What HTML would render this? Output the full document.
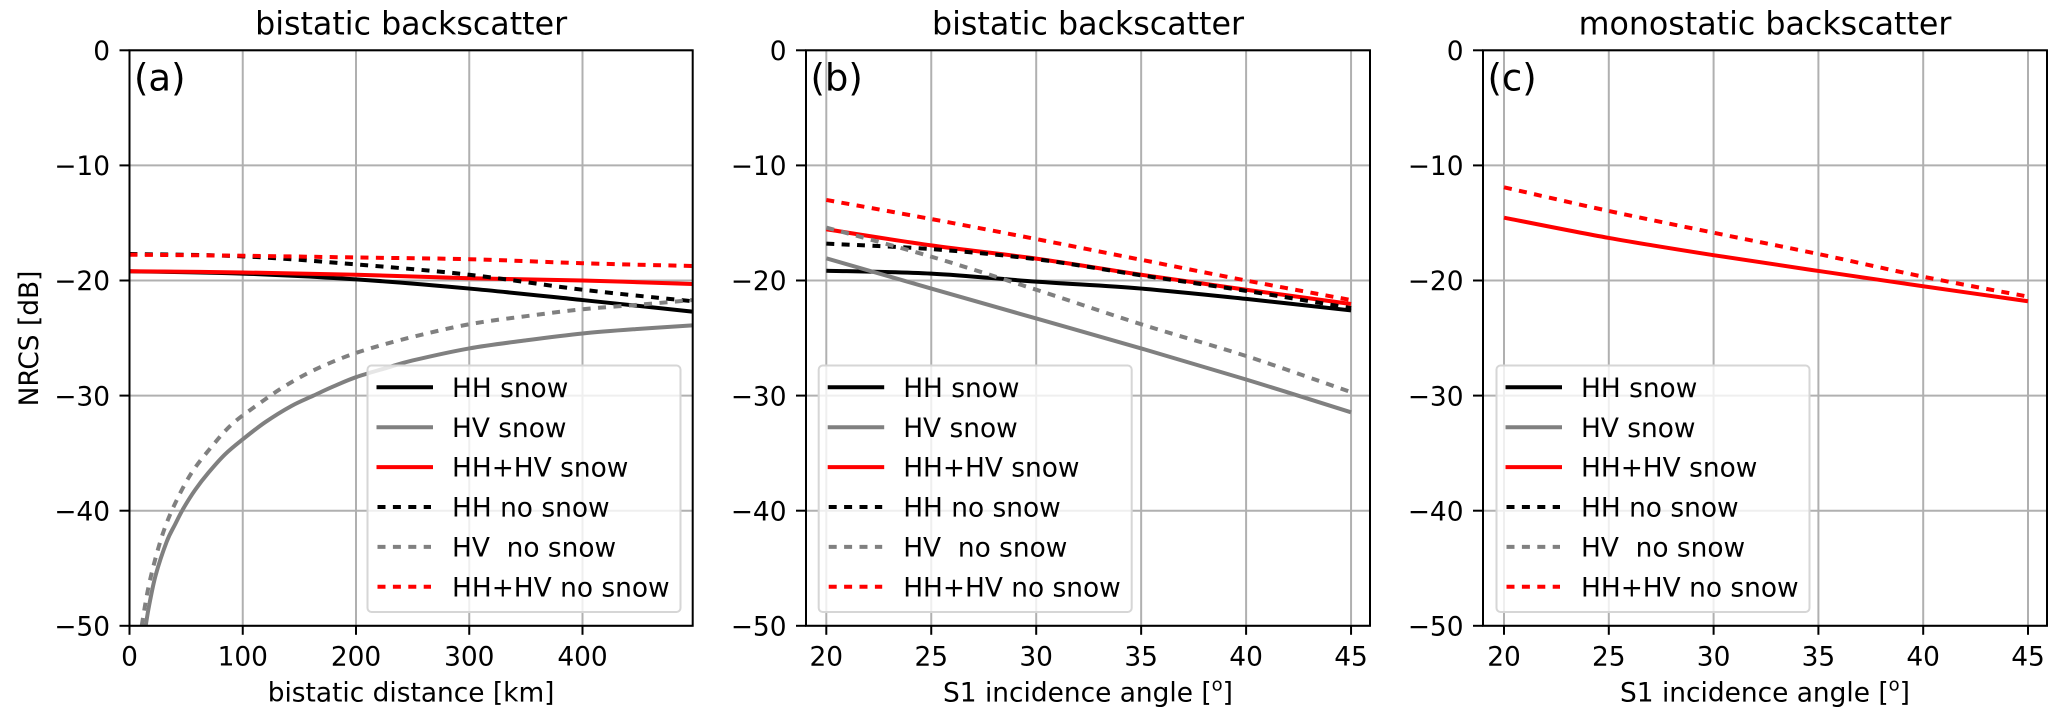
<!DOCTYPE html>
<html>
<head>
<meta charset="utf-8">
<title>Bistatic and monostatic backscatter</title>
<style>
html,body{margin:0;padding:0;background:#fff;}
svg{display:block;}
text{font-family:"DejaVu Sans","Liberation Sans",sans-serif;fill:#000;}
</style>
</head>
<body>
<svg id="figure" xmlns="http://www.w3.org/2000/svg" width="2067" height="720" viewBox="0 0 2067 720"></svg>
<script>
// ---- data ----
const yTicks = [0, -10, -20, -30, -40, -50];
const distanceTicks = [0, 100, 200, 300, 400];
const angleTicks = [20, 25, 30, 35, 40, 45];
const legendLabels = ['HH snow', 'HV snow', 'HH+HV snow', 'HH no snow', 'HV  no snow', 'HH+HV no snow'];

// panel (a): bistatic distance [km]
const distanceA = [0, 100, 200, 300, 400, 497];
const aHHSnow = [-19.2, -19.4, -19.9, -20.7, -21.7, -22.7];
const aHHHVSnow = [-19.2, -19.3, -19.5, -19.8, -20.0, -20.3];
const aHHNoSnow = [-17.7, -17.9, -18.6, -19.5, -20.8, -21.8];
const aHHHVNoSnow = [-17.76, -17.85, -18.0, -18.15, -18.5, -18.74];
const aHVSnowX = [14.3, 17.2, 23.1, 32.8, 40.2, 47.6, 57.9, 69.7, 84.4, 100, 120, 143, 162.5, 179, 200, 225, 250, 300, 350, 400, 450, 497];
const aHVSnow = [-50, -48.3, -45.6, -42.7, -41.2, -39.8, -38.2, -36.7, -35.1, -33.8, -32.3, -30.9, -30, -29.25, -28.4, -27.65, -26.95, -25.9, -25.2, -24.6, -24.2, -23.9];
const aHVNoSnowX = [10.8, 16, 22.5, 30.8, 41.1, 54.9, 72, 90.3, 113, 136, 159.5, 186, 212.5, 250, 300, 350, 400, 450, 497];
const aHVNoSnow = [-50, -47, -44.3, -41.6, -39.2, -36.7, -34.5, -32.5, -30.8, -29.25, -27.95, -26.8, -25.9, -24.9, -23.8, -23.1, -22.5, -22.1, -21.7];

// panel (b): S1 incidence angle, bistatic
const angleB = [20, 25, 30, 35, 40, 45];
const bHHSnow = [-19.15, -19.4, -20.1, -20.7, -21.6, -22.6];
const bHVSnow = [-18.07, -20.7, -23.3, -25.9, -28.6, -31.45];
const bHHHVSnow = [-15.55, -16.95, -18.1, -19.5, -20.8, -22.04];
const bHHNoSnow = [-16.8, -17.27, -18.15, -19.55, -20.9, -22.4];
const bHVNoSnow = [-15.4, -17.93, -20.8, -23.8, -26.56, -29.7];
const bHHHVNoSnow = [-13.0, -14.66, -16.4, -18.2, -20.0, -21.7];

// panel (c): S1 incidence angle, monostatic
const angleC = [20, 25, 30, 35, 40, 45];
const cHHHVSnow = [-14.54, -16.3, -17.8, -19.17, -20.5, -21.8];
const cHHHVNoSnow = [-11.9, -13.96, -15.85, -17.7, -19.67, -21.4];

// ---- drawing ----
const NS = 'http://www.w3.org/2000/svg';
const svg = document.getElementById('figure');
const AX_TOP = 50.3, AX_BOTTOM = 625.8;
const GRID = '#b0b0b0', FS = 26.4;

function make(tag, attrs, parent) {
  const n = document.createElementNS(NS, tag);
  for (const k in attrs) n.setAttribute(k, attrs[k]);
  parent.appendChild(n);
  return n;
}
function label(parent, x, y, str, size, anchor) {
  const t = make('text', {x: x, y: y, 'font-size': size, 'text-anchor': anchor || 'middle'}, parent);
  t.setAttribute('xml:space', 'preserve');
  t.style.whiteSpace = 'pre';
  t.textContent = str;
  return t;
}
function fmt(v) { return v < 0 ? '\u2212' + Math.abs(v) : String(v); }
const yScale = v => AX_TOP + (0 - v) * (AX_BOTTOM - AX_TOP) / 50;

function smoothPath(pts) {
  let d = 'M' + pts[0][0].toFixed(2) + ' ' + pts[0][1].toFixed(2);
  for (let i = 0; i < pts.length - 1; i++) {
    const p0 = pts[Math.max(i - 1, 0)], p1 = pts[i], p2 = pts[i + 1], p3 = pts[Math.min(i + 2, pts.length - 1)];
    const c1x = p1[0] + (p2[0] - p0[0]) / 6, c1y = p1[1] + (p2[1] - p0[1]) / 6;
    const c2x = p2[0] - (p3[0] - p1[0]) / 6, c2y = p2[1] - (p3[1] - p1[1]) / 6;
    d += 'C' + c1x.toFixed(2) + ' ' + c1y.toFixed(2) + ' ' + c2x.toFixed(2) + ' ' + c2y.toFixed(2) + ' ' + p2[0].toFixed(2) + ' ' + p2[1].toFixed(2);
  }
  return d;
}

function series(g, clipId, scaleX, xs, ys, color, dashed, name) {
  const pts = xs.map((x, i) => [scaleX(x), yScale(ys[i])]);
  const p = make('path', {
    d: smoothPath(pts), fill: 'none', stroke: color, 'stroke-width': 4,
    'stroke-dasharray': dashed ? '8 7.4' : 'none',
    'clip-path': 'url(#' + clipId + ')'
  }, g);
  
  
}

function legend(g, left) {
  const top = 365.5, w = 313, h = 246.5;
  const box = make('rect', {x: left, y: top, width: w, height: h, rx: 4, fill: '#fff', 'fill-opacity': 0.8, stroke: '#d6d6d6', 'stroke-width': 2}, g);
  
  
  const colors = ['#000', '#808080', '#f00', '#000', '#808080', '#f00'];
  legendLabels.forEach((txt, i) => {
    const y = 387.3 + i * 39.9;
    const dashed = i >= 3;
    const ln = make('line', {x1: left + (dashed ? 10 : 9), x2: left + (dashed ? 63.5 : 65.5), y1: y, y2: y, stroke: colors[i], 'stroke-width': 4, 'stroke-dasharray': dashed ? '8 7.4' : 'none'}, g);
    
    
    const t = label(g, left + 84.5, y + 9.6, txt, FS, 'start');
    
    
  });
}

function panel(cfg) {
  const g = make('g', {}, svg);
  
  
  const L = cfg.left, R = cfg.right;
  const sx = cfg.scaleX;
  const clipId = cfg.name + '-clip';
  const defs = make('defs', {}, g);
  const cp = make('clipPath', {id: clipId}, defs);
  make('rect', {x: L, y: AX_TOP, width: R - L, height: AX_BOTTOM - AX_TOP}, cp);

  // grid
  cfg.xTicks.forEach(v => {
    const gl = make('line', {x1: sx(v), x2: sx(v), y1: AX_TOP, y2: AX_BOTTOM, stroke: GRID, 'stroke-width': 2}, g);
    
    
  });
  yTicks.forEach(v => {
    const gl = make('line', {x1: L, x2: R, y1: yScale(v), y2: yScale(v), stroke: GRID, 'stroke-width': 2}, g);
    
    
  });

  // series
  cfg.lines.forEach(s => series(g, clipId, sx, s[0], s[1], s[2], s[3], s[4]));

  // legend
  legend(g, cfg.legendLeft);

  // spines
  const frame = make('rect', {x: L, y: AX_TOP, width: R - L, height: AX_BOTTOM - AX_TOP, fill: 'none', stroke: '#000', 'stroke-width': 2}, g);
  
  

  // ticks + tick labels
  cfg.xTicks.forEach(v => {
    const tk = make('line', {x1: sx(v), x2: sx(v), y1: AX_BOTTOM, y2: AX_BOTTOM + 9, stroke: '#000', 'stroke-width': 2}, g);
    
    
    const t = label(g, sx(v), 665.3, fmt(v), FS);
    
    
  });
  yTicks.forEach(v => {
    const tk = make('line', {x1: L - 10, x2: L, y1: yScale(v), y2: yScale(v), stroke: '#000', 'stroke-width': 2}, g);
    
    
    const t = label(g, L - 19.5, yScale(v) + 9.7, fmt(v), FS, 'end');
    
    
  });

  // title
  const title = label(g, (L + R) / 2, 34.3, cfg.title, 31.7);
  
  

  // panel tag
  const tag = label(g, L + 4.5, 90.5, cfg.tag, 37, 'start');
  
  

  // x label
  const xl = label(g, (L + R) / 2, 701.5, cfg.xLabel, FS);
  
  
  if (cfg.degree) {
    const a = make('tspan', {'font-size': 18, dy: -11}, xl);
    a.textContent = 'o';
    const b = make('tspan', {dy: 11}, xl);
    b.textContent = ']';
  }
  return g;
}

const gA = panel({
  name: 'panel-a', left: 129.5, right: 692.7, legendLeft: 367.5,
  scaleX: v => 129.5 + v * 1.1325, xTicks: distanceTicks,
  title: 'bistatic backscatter', tag: '(a)', xLabel: 'bistatic distance [km]',
  lines: [
    [distanceA, aHHSnow, '#000', false, 'series-hh-snow'],
    [aHVSnowX, aHVSnow, '#808080', false, 'series-hv-snow'],
    [distanceA, aHHHVSnow, '#f00', false, 'series-hh-hv-snow'],
    [distanceA, aHHNoSnow, '#000', true, 'series-hh-no-snow'],
    [aHVNoSnowX, aHVNoSnow, '#808080', true, 'series-hv-no-snow'],
    [distanceA, aHHHVNoSnow, '#f00', true, 'series-hh-hv-no-snow']
  ]
});
panel({
  name: 'panel-b', left: 806, right: 1370, legendLeft: 818.7,
  scaleX: v => 826.3 + (v - 20) * 20.99, xTicks: angleTicks,
  title: 'bistatic backscatter', tag: '(b)', xLabel: 'S1 incidence angle [', degree: true,
  lines: [
    [angleB, bHHSnow, '#000', false, 'series-hh-snow'],
    [angleB, bHVSnow, '#808080', false, 'series-hv-snow'],
    [angleB, bHHHVSnow, '#f00', false, 'series-hh-hv-snow'],
    [angleB, bHHNoSnow, '#000', true, 'series-hh-no-snow'],
    [angleB, bHVNoSnow, '#808080', true, 'series-hv-no-snow'],
    [angleB, bHHHVNoSnow, '#f00', true, 'series-hh-hv-no-snow']
  ]
});
panel({
  name: 'panel-c', left: 1483, right: 2047, legendLeft: 1496.5,
  scaleX: v => 1504 + (v - 20) * 20.96, xTicks: angleTicks,
  title: 'monostatic backscatter', tag: '(c)', xLabel: 'S1 incidence angle [', degree: true,
  lines: [
    [angleC, cHHHVSnow, '#f00', false, 'series-hh-hv-snow'],
    [angleC, cHHHVNoSnow, '#f00', true, 'series-hh-hv-no-snow']
  ]
});

const yl = label(gA, 0, 0, 'NRCS [dB]', FS);
yl.setAttribute('transform', 'translate(38,338.5) rotate(-90)');


</script>
</body>
</html>
